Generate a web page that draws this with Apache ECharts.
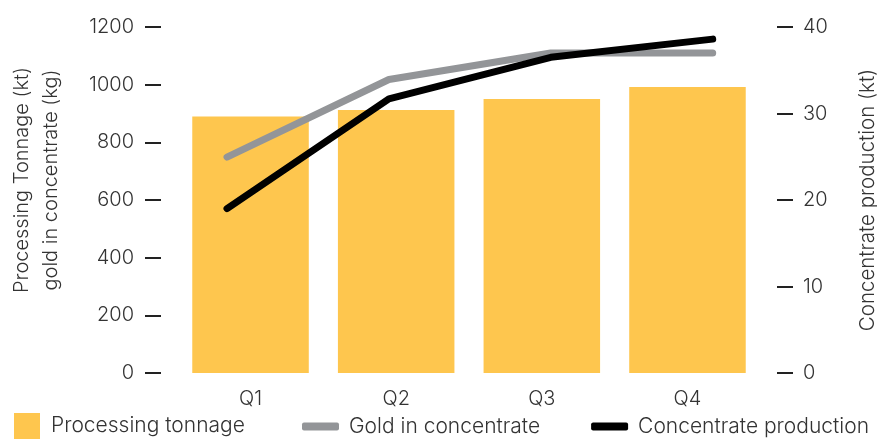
<!DOCTYPE html>
<html>
<head>
<meta charset="utf-8">
<script src="https://cdn.jsdelivr.net/npm/echarts@6/dist/echarts.min.js"></script>
<style>html,body{margin:0;padding:0;background:#fff}#c{width:877px;height:439px}</style>
</head>
<body>
<div id="c"></div>
<script>
const categories = ['Q1', 'Q2', 'Q3', 'Q4'];
const processingTonnage = [890, 912, 950, 992];
const goldInConcentrate = [749, 1018, 1110, 1110];
const concentrateProduction = [19.0, 31.7, 36.5, 38.6];
const leftTicks = [0, 200, 400, 600, 800, 1000, 1200];
const rightTicks = [0, 10, 20, 30, 40];

const FONT = 'Inter';
const TXT = '#333333';
const chart = echarts.init(document.getElementById('c'), null, {renderer: 'canvas'});
const tickStyle = {show: true, length: 16, inside: false, lineStyle: {color: '#222', width: 2}};
const labelStyle = {fontFamily: FONT, fontWeight: 300, fontSize: 20, color: TXT};
const legendText = {fontFamily: FONT, fontWeight: 300, fontSize: 21, color: TXT};

chart.setOption({
  animation: false,
  grid: [
    {left: 177.7, right: 116.7, top: 27, bottom: 66, outerBoundsMode: 'none', containLabel: false},
    {left: 227, right: 164.3, top: 27, bottom: 66, outerBoundsMode: 'none', containLabel: false}
  ],
  legend: [
    {
      data: [{name: 'Processing tonnage', icon: 'rect'}],
      left: 9, top: 408, itemWidth: 26, itemHeight: 26,
      textStyle: Object.assign({padding: [0, 0, 0, 6]}, legendText)
    },
    {
      data: [{name: 'Gold in concentrate', icon: 'roundRect'}, {name: 'Concentrate production', icon: 'roundRect'}],
      left: 297, top: 411, itemWidth: 37, itemHeight: 8, itemGap: 51,
      textStyle: Object.assign({padding: [0, 0, 0, 5]}, legendText)
    }
  ],
  graphic: [{
    type: 'text', x: 36, y: 180, rotation: Math.PI / 2,
    style: {
      text: 'Processing Tonnage (kt)\ngold in concentrate (kg)',
      font: '300 20px ' + FONT, fill: TXT, align: 'center', verticalAlign: 'middle', lineHeight: 29
    }
  }],
  xAxis: [
    {
      type: 'category', data: categories, gridIndex: 0,
      axisLine: {show: false}, axisTick: {show: false},
      axisLabel: Object.assign({margin: 16}, labelStyle)
    },
    {
      type: 'category', data: categories, gridIndex: 1, boundaryGap: false, show: false
    }
  ],
  yAxis: [
    {
      type: 'value', gridIndex: 0, position: 'left', min: leftTicks[0], max: leftTicks[leftTicks.length - 1], interval: 200,
      offset: 16.7, axisLine: {show: false}, axisTick: tickStyle, splitLine: {show: false},
      axisLabel: Object.assign({margin: 27, formatter: v => String(v)}, labelStyle)
    },
    {
      type: 'value', gridIndex: 0, position: 'right', min: rightTicks[0], max: rightTicks[rightTicks.length - 1], interval: 10,
      offset: 16.7, axisLine: {show: false}, axisTick: tickStyle, splitLine: {show: false},
      axisLabel: Object.assign({margin: 26, formatter: v => String(v)}, labelStyle),
      name: 'Concentrate production (kt)', nameLocation: 'middle', nameRotate: 90, nameGap: 80,
      nameTextStyle: Object.assign({}, labelStyle, {fontSize: 20.5})
    },
    {type: 'value', gridIndex: 1, min: 0, max: 1200, show: false, splitLine: {show: false}},
    {type: 'value', gridIndex: 1, min: 0, max: 40, show: false, splitLine: {show: false}}
  ],
  series: [
    {
      name: 'Processing tonnage', type: 'bar', data: processingTonnage,
      xAxisIndex: 0, yAxisIndex: 0, barCategoryGap: '20%',
      itemStyle: {color: '#FEC64E'}
    },
    {
      name: 'Gold in concentrate', type: 'line', data: goldInConcentrate,
      xAxisIndex: 1, yAxisIndex: 2, symbol: 'none',
      lineStyle: {color: '#939598', width: 7, cap: 'round', join: 'round'},
      itemStyle: {color: '#939598'}
    },
    {
      name: 'Concentrate production', type: 'line', data: concentrateProduction,
      xAxisIndex: 1, yAxisIndex: 3, symbol: 'none',
      lineStyle: {color: '#000000', width: 7, cap: 'round', join: 'round'},
      itemStyle: {color: '#000000'}
    }
  ]
});
</script>
</body>
</html>
